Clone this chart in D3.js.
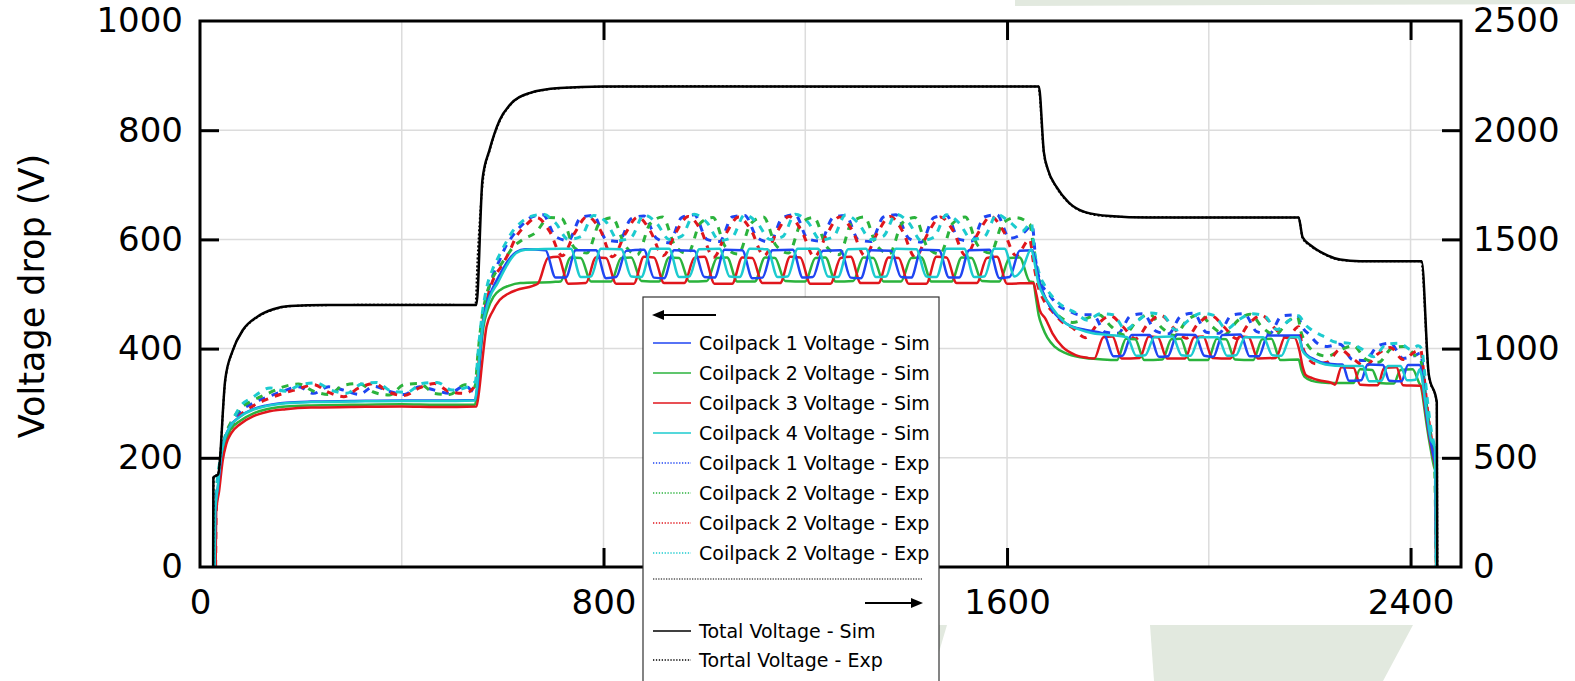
<!DOCTYPE html>
<html>
<head>
<meta charset="utf-8">
<script src="https://cdn.jsdelivr.net/npm/d3@7"></script>
<style>
body { margin: 0; background: #fff; }
svg { display: block; font-family: "DejaVu Sans", sans-serif; }
</style>
</head>
<body>
<svg width="1575" height="681"></svg>
<script>
// ---- data (time, voltage) ----
var blueSim = [[29,0],[30,105],[36,150],[43,212],[50,238],[60,258],[80,276],[105,289],[132,296],[170,301],[220,303],[300,304],[400,305],[470,305],[545,306],[550,330],[555,385],[561,445],[568,480],[580,510],[594,535],[610,560],[627,577],[645,582],
  [685,580],[705,530],[725,530],[745,580],[785,580],[805,529],[825,531],[845,579],[880,581],[900,530],[920,529],[940,580],[980,579],[1000,531],[1020,530],[1040,581],
  [1075,580],[1095,529],[1115,530],[1135,580],[1175,581],[1195,530],[1215,531],[1235,579],[1270,580],[1290,530],[1310,529],[1330,580],[1370,579],[1390,531],[1410,530],[1430,581],
  [1465,580],[1485,530],[1505,530],[1525,580],[1565,581],[1585,529],[1605,531],[1625,579],
  [1650,580],[1656,560],[1665,520],[1675,495],[1690,470],[1717,446],[1756,434],[1790,428],
  [1793,426],[1811,386],[1829,387],[1847,425],[1883,425],[1901,385],[1919,386],[1937,426],[1973,425],[1991,387],[2009,385],[2027,425],[2063,426],[2081,386],[2099,386],[2117,424],
  [2178,424],[2186,398],[2195,388],[2210,380],[2231,373],[2255,371],
  [2265,371],[2278,341],[2302,342],[2315,371],[2345,370],[2358,341],[2382,340],[2395,370],
  [2418,370],[2424,345],[2430,290],[2436,250],[2445,205],[2449,185],[2451,0]];

var greenSim = [[30,0],[31,108],[37,150],[44,205],[51,232],[61,252],[80,268],[105,281],[132,289],[170,294],[220,296],[300,297],[400,298],[470,297],[545,297],[550,325],[556,390],[562,440],[570,470],[582,495],[596,508],[612,515],[635,520],[700,522],
  [715,523],[735,567],[755,566],[775,523],[815,523],[835,566],[855,567],[875,524],[910,523],[930,567],[950,566],[970,523],[1005,524],[1025,566],[1045,567],[1065,523],
  [1100,523],[1120,567],[1140,566],[1160,524],[1200,523],[1220,566],[1240,567],[1260,523],[1295,524],[1315,567],[1335,566],[1355,523],[1390,523],[1410,566],[1430,567],[1450,523],
  [1490,523],[1510,567],[1530,566],[1550,524],[1585,523],[1605,566],[1625,567],[1645,523],
  [1652,522],[1657,495],[1663,460],[1670,440],[1680,420],[1695,403],[1715,392],[1745,384],[1790,380],
  [1818,379],[1836,418],[1854,417],[1872,379],[1908,380],[1926,417],[1944,418],[1962,379],[1998,379],[2016,418],[2034,417],[2052,380],[2088,379],[2106,417],[2124,418],[2142,379],
  [2178,380],[2184,360],[2190,348],[2205,341],[2225,338],[2250,337],
  [2287,337],[2300,362],[2324,361],[2337,337],[2367,336],[2380,361],[2404,362],[2417,337],
  [2421,330],[2426,300],[2432,260],[2440,215],[2447,182],[2450,175],[2451,0]];

var redSim = [[31,0],[32,100],[38,140],[45,195],[52,225],[62,245],[80,262],[105,276],[132,284],[170,289],[220,292],[300,293],[400,294],[470,293],[548,294],[553,320],[560,380],[568,440],[580,468],[594,489],[610,500],[627,507],[660,515],
  [670,519],[690,566],[710,568],[730,519],[765,520],[785,567],[805,566],[825,519],[860,519],[880,568],[900,567],[920,520],[960,520],[980,566],[1000,568],[1020,519],
  [1055,519],[1075,567],[1095,566],[1115,520],[1150,520],[1170,568],[1190,567],[1210,519],[1250,519],[1270,566],[1290,568],[1310,520],[1345,520],[1365,567],[1385,566],[1405,519],
  [1440,519],[1460,568],[1480,567],[1500,520],[1540,520],[1560,566],[1580,568],[1600,519],
  [1652,520],[1658,500],[1665,470],[1676,455],[1690,428],[1710,403],[1736,388],[1760,383],
  [1773,382],[1791,421],[1809,422],[1827,382],[1863,383],[1881,422],[1899,421],[1917,382],[1953,382],[1971,421],[1989,422],[2007,383],[2043,382],[2061,422],[2079,421],[2097,382],
  [2133,383],[2151,421],[2170,420],[2180,395],[2186,367],[2192,352],[2205,346],[2218,342],[2244,337],
  [2250,334],[2263,366],[2287,365],[2300,334],[2335,333],[2348,365],[2372,366],[2385,333],
  [2420,332],[2424,320],[2430,282],[2436,245],[2445,201],[2449,180],[2451,0]];

var cyanSim = [[29,0],[30,100],[35,145],[42,205],[49,235],[59,256],[79,275],[105,288],[132,295],[170,300],[220,302],[300,303],[400,304],[470,304],[545,305],[549,330],[554,385],[560,440],[567,470],[575,495],[590,520],[607,550],[617,565],[627,575],[645,581],[720,583],
  [735,583],[755,531],[775,532],[795,583],[835,582],[855,532],[875,531],[895,583],[930,583],[950,531],[970,532],[990,582],[1030,583],[1050,532],[1070,531],[1090,583],
  [1125,582],[1145,531],[1165,532],[1185,583],[1225,583],[1245,532],[1265,531],[1285,582],[1320,583],[1340,531],[1360,532],[1380,583],[1420,582],[1440,532],[1460,531],[1480,583],
  [1515,583],[1535,531],[1555,532],[1575,583],[1595,583],[1615,532],[1630,545],
  [1648,582],[1654,560],[1662,520],[1672,498],[1683,483],[1700,462],[1717,446],[1740,436],[1770,428],[1815,424],[1830,422],
  [1838,421],[1856,387],[1874,388],[1892,421],[1928,422],[1946,388],[1964,387],[1982,421],[2018,421],[2036,387],[2054,388],[2072,421],[2108,421],[2126,388],[2144,387],[2162,421],
  [2178,421],[2186,396],[2195,386],[2210,378],[2231,371],[2270,368],
  [2305,368],[2318,340],[2342,341],[2355,368],[2380,368],[2393,342],[2410,343],[2418,362],
  [2422,350],[2428,310],[2434,270],[2440,235],[2448,220],[2450,110],[2451,0]];

var blueExp = [[30,0],[31,105],[40,190],[50,235],[62,262],[80,285],[105,300],[135,312],[165,322],[195,330],[225,318],[255,330],[285,324],[315,316],[345,331],[375,322],[405,316],[435,330],[465,324],[495,318],[525,332],[545,320],[552,380],[560,450],[570,500],[583,540],[594,562],[605,585],[615,600],[627,615],[640,628],[655,640],
  [680,645],[705,605],[730,598],[755,640],[780,644],[805,600],[830,596],[855,638],[880,643],[905,602],[930,594],[955,640],[980,645],[1005,600],[1030,596],[1055,641],[1080,644],[1105,603],[1130,595],[1155,640],
  [1180,645],[1205,601],[1230,597],[1255,640],[1280,644],[1305,600],[1330,596],[1355,641],[1380,645],[1405,602],[1430,595],[1455,640],[1480,644],[1505,600],[1530,597],[1555,641],[1580,645],[1605,602],[1630,610],[1650,625],
  [1657,560],[1665,525],[1683,500],[1700,480],[1720,470],[1745,462],
  [1770,462],[1795,430],[1820,428],[1845,460],[1870,464],[1895,432],[1920,427],[1945,460],[1970,465],[1995,430],[2020,428],[2045,461],[2070,464],[2095,431],[2120,427],[2145,460],[2175,462],
  [2185,440],[2200,425],[2215,410],[2235,404],
  [2260,408],[2285,380],[2310,378],[2335,405],[2360,410],[2385,382],[2410,388],[2420,392],[2425,360],[2430,310],[2436,265],[2444,225],[2449,195],[2451,0]];

var greenExp = [[30,0],[31,110],[40,195],[50,240],[62,266],[80,290],[105,305],[135,318],[165,330],[195,335],[225,322],[255,316],[285,333],[315,336],[345,320],[375,315],[405,334],[435,336],[465,318],[495,316],[525,334],[545,330],[551,390],[558,450],[567,495],[578,525],[590,545],[605,565],[620,585],[640,600],[665,612],
  [692,640],[717,638],[742,585],[767,575],[792,630],[817,640],[842,590],[867,572],[892,628],[917,641],[942,588],[967,574],[992,630],[1017,640],[1042,586],[1067,573],[1092,629],[1117,641],[1142,589],[1167,575],
  [1192,630],[1217,640],[1242,587],[1267,572],[1292,631],[1317,641],[1342,588],[1367,574],[1392,630],[1417,640],[1442,586],[1467,573],[1492,629],[1517,641],[1542,589],[1567,575],[1592,630],[1617,640],[1645,628],
  [1652,590],[1660,540],[1670,505],[1685,478],[1705,458],[1730,448],
  [1757,455],[1782,462],[1807,440],[1832,425],[1857,450],[1882,463],[1907,438],[1932,424],[1957,452],[1982,462],[2007,440],[2032,426],[2057,451],[2082,463],[2107,438],[2132,425],[2157,450],[2176,458],
  [2183,430],[2195,408],[2212,392],[2235,386],
  [2262,398],[2287,405],[2312,380],[2337,375],[2362,400],[2387,404],[2412,385],[2420,380],[2426,340],[2432,290],[2440,240],[2447,200],[2451,0]];

var redExp = [[31,0],[32,100],[41,180],[51,228],[63,255],[80,278],[105,295],[135,308],[165,318],[195,326],[225,334],[255,320],[285,312],[315,328],[345,336],[375,320],[405,314],[435,328],[465,336],[495,321],[525,318],[548,336],[555,395],[562,455],[572,500],[583,530],[597,550],[612,575],[627,605],[645,625],[668,640],
  [693,615],[718,570],[743,612],[768,642],[793,618],[818,568],[843,610],[868,641],[893,615],[918,570],[943,612],[968,642],[993,617],[1018,567],[1043,611],[1068,641],[1093,616],[1118,570],[1143,612],[1168,642],
  [1193,615],[1218,568],[1243,610],[1268,641],[1293,617],[1318,570],[1343,612],[1368,642],[1393,615],[1418,567],[1443,611],[1468,641],[1493,616],[1518,570],[1543,612],[1568,642],[1593,615],[1618,570],[1645,600],
  [1652,560],[1660,520],[1672,490],[1688,470],[1708,450],[1730,438],
  [1755,420],[1780,445],[1805,460],[1830,440],[1855,418],[1880,446],[1905,461],[1930,438],[1955,419],[1980,447],[2005,460],[2030,440],[2055,418],[2080,446],[2105,461],[2130,438],[2155,420],[2178,440],
  [2184,410],[2195,385],[2212,372],[2235,375],
  [2260,398],[2285,382],[2310,368],[2335,390],[2360,402],[2385,380],[2410,395],[2420,398],[2425,365],[2431,310],[2438,255],[2446,210],[2450,185],[2451,0]];

var cyanExp = [[29,0],[30,102],[38,185],[48,232],[59,256],[79,293],[105,311],[139,328],[170,322],[200,334],[230,337],[260,324],[290,318],[320,335],[350,338],[380,322],[410,320],[440,336],[470,338],[500,324],[530,330],[546,340],[552,400],[559,460],[568,510],[580,545],[593,570],[607,595],[620,615],[635,630],[653,641],
  [680,646],[705,630],[730,600],[755,605],[780,644],[805,632],[830,598],[855,604],[880,645],[905,630],[930,600],[955,606],[980,646],[1005,631],[1030,598],[1055,604],[1080,645],[1105,630],[1130,600],[1155,605],
  [1180,646],[1205,632],[1230,599],[1255,604],[1280,645],[1305,630],[1330,600],[1355,606],[1380,646],[1405,631],[1430,598],[1455,604],[1480,645],[1505,630],[1530,600],[1555,605],[1580,646],[1605,632],[1630,615],[1648,630],
  [1655,575],[1663,540],[1675,515],[1690,495],[1710,478],[1735,466],
  [1760,452],[1785,464],[1810,462],[1835,435],[1860,452],[1885,465],[1910,460],[1935,434],[1960,452],[1985,465],[2010,461],[2035,436],[2060,453],[2085,464],[2110,460],[2135,435],[2160,452],[2178,460],
  [2190,445],[2204,434],[2231,421],[2250,412],
  [2277,410],[2302,400],[2327,385],[2352,408],[2377,410],[2402,398],[2415,405],[2422,400],[2428,355],[2434,300],[2441,250],[2448,210],[2451,0]];

// total voltage, right axis
var totalSim = [[26,0],[26.5,410],[36,425],[50,857],[65,992],[85,1085],[113,1145],[145,1180],[178,1195],[250,1200],[548,1200],[560,1775],[574,1910],[594,2046],[614,2115],[653,2170],[713,2193],[800,2200],
  [1663,2200],[1673,1900],[1681,1820],[1698,1740],[1722,1670],[1755,1625],[1804,1607],[1880,1600],[2178,1600],[2186,1510],[2203,1471],[2228,1435],[2260,1408],[2300,1400],[2422,1400],[2436,883],[2452,755],[2453,0]];
var totalExp = [[26,0],[27,410],[36,428],[50,850],[65,990],[85,1082],[113,1143],[145,1178],[178,1194],[250,1199],[400,1201],[546,1200],[550,1400],[561,1770],[574,1905],[594,2040],[614,2112],[653,2168],[713,2192],[800,2199],[1000,2201],[1300,2199],
  [1662,2200],[1673,1895],[1681,1818],[1698,1738],[1722,1668],[1755,1623],[1804,1605],[1900,1601],[2178,1600],[2186,1505],[2203,1468],[2228,1433],[2260,1406],[2300,1400],[2421,1400],[2436,880],[2452,752],[2453,0]];

var xTicks = [0, 800, 1600, 2400];
var xGrid = [400, 800, 1200, 1600, 2000, 2400];
var yTicksL = [0, 200, 400, 600, 800, 1000];
var yTicksR = [0, 500, 1000, 1500, 2000, 2500];
var yGrid = [200, 400, 600, 800];

var coilLabels = ["Coilpack 1 Voltage - Sim", "Coilpack 2 Voltage - Sim", "Coilpack 3 Voltage - Sim", "Coilpack 4 Voltage - Sim",
  "Coilpack 1 Voltage - Exp", "Coilpack 2 Voltage - Exp", "Coilpack 2 Voltage - Exp", "Coilpack 2 Voltage - Exp"];
var totalLabels = ["Total Voltage - Sim", "Tortal Voltage - Exp"];

var colors = { blue: "#1f45f2", green: "#2bb33c", red: "#e0161c", cyan: "#1ccbcf" };

// ---- drawing ----
var svg = d3.select("svg");

var x = d3.scaleLinear().domain([0, 2500]).range([200, 1461]);
var yL = d3.scaleLinear().domain([0, 1000]).range([567, 21]);
var yR = d3.scaleLinear().domain([0, 2500]).range([567, 21]);

// faint slide background shapes
var bg = svg.append("g").attr("fill", "#e2e9df");
bg.append("path").attr("d", "M1015,0L1575,0L1575,4L1015,6Z");
bg.append("path").attr("d", "M1150,625L1413,625L1383,681L1154,681Z");
bg.append("path").attr("d", "M939,625L947,625L939,652Z");

svg.append("defs").append("clipPath").attr("id", "plot")
    .append("rect").attr("x", 200).attr("y", 21).attr("width", 1261).attr("height", 546);

svg.append("g").selectAll("line").data(xGrid).enter().append("line")
    .attr("x1", function (d) { return x(d); }).attr("x2", function (d) { return x(d); })
    .attr("y1", yL(1000)).attr("y2", yL(0))
    .attr("stroke", "#dcdcdc").attr("stroke-width", 1.5);
svg.append("g").selectAll("line").data(yGrid).enter().append("line")
    .attr("x1", x(0)).attr("x2", x(2500))
    .attr("y1", function (d) { return yL(d); }).attr("y2", function (d) { return yL(d); })
    .attr("stroke", "#dcdcdc").attr("stroke-width", 1.5);

// ticks sitting on the frame corners are dropped, the frame draws them
function styleAxis(edges) {
    return function (g) {
        g.select(".domain").remove();
        g.selectAll(".tick line").attr("stroke", "#000").attr("stroke-width", 3)
            .filter(function (d) { return edges.indexOf(d) >= 0; }).remove();
        g.selectAll(".tick text").attr("font-size", 34).attr("fill", "#000")
            .attr("font-family", "DejaVu Sans, sans-serif");
    };
}

var fmt = d3.format("d");
svg.append("g").attr("transform", "translate(200,0)")
    .call(d3.axisLeft(yL).tickValues(yTicksL).tickFormat(fmt).tickSize(-19).tickSizeOuter(0).tickPadding(17))
    .call(styleAxis([0, 1000]));
svg.append("g").attr("transform", "translate(1461,0)")
    .call(d3.axisRight(yR).tickValues(yTicksR).tickFormat(fmt).tickSize(-19).tickSizeOuter(0).tickPadding(12))
    .call(styleAxis([0, 2500]));
svg.append("g").attr("transform", "translate(0,567)")
    .call(d3.axisBottom(x).tickValues(xTicks).tickFormat(fmt).tickSize(-19).tickSizeOuter(0).tickPadding(23))
    .call(styleAxis([0]));
svg.append("g").attr("transform", "translate(0,21)")
    .call(d3.axisTop(x).tickValues(xTicks).tickSize(-19).tickSizeOuter(0).tickFormat(""))
    .call(styleAxis([0]));

svg.append("text")
    .attr("transform", "translate(44,296) rotate(-90)")
    .attr("text-anchor", "middle")
    .attr("font-family", "DejaVu Sans, sans-serif")
    .attr("font-size", 35)
    .text("Voltage drop (V)");

var lineL = d3.line()
    .x(function (d) { return x(d[0]); })
    .y(function (d) { return yL(d[1]); })
    .curve(d3.curveMonotoneX);
var lineR = d3.line()
    .x(function (d) { return x(d[0]); })
    .y(function (d) { return yR(d[1]); })
    .curve(d3.curveMonotoneX);

var expSeries = [[blueExp, colors.blue], [greenExp, colors.green], [redExp, colors.red], [cyanExp, colors.cyan]];
var simSeries = [[greenSim, colors.green], [redSim, colors.red], [blueSim, colors.blue], [cyanSim, colors.cyan]];

var plot = svg.append("g").attr("clip-path", "url(#plot)");

plot.append("g").selectAll("path").data(expSeries).enter().append("path")
    .attr("d", function (d) { return lineL(d[0]); })
    .attr("fill", "none")
    .attr("stroke", function (d) { return d[1]; })
    .attr("stroke-width", 3)
    .attr("stroke-dasharray", "7,7");

plot.append("g").selectAll("path").data(simSeries).enter().append("path")
    .attr("d", function (d) { return lineL(d[0]); })
    .attr("fill", "none")
    .attr("stroke", function (d) { return d[1]; })
    .attr("stroke-width", 2.5);

plot.append("path").attr("d", lineR(totalExp))
    .attr("fill", "none").attr("stroke", "#000").attr("stroke-width", 2)
    .attr("stroke-dasharray", "2,2");
plot.append("path").attr("d", lineR(totalSim))
    .attr("fill", "none").attr("stroke", "#000").attr("stroke-width", 2.5);

// frame
svg.append("rect")
    .attr("x", x(0)).attr("y", yL(1000))
    .attr("width", x(2500) - x(0)).attr("height", yL(0) - yL(1000))
    .attr("fill", "none").attr("stroke", "#000").attr("stroke-width", 3);

// ---- legend ----
var lg = svg.append("g").attr("font-size", 19).attr("font-family", "DejaVu Sans, sans-serif");
lg.append("rect").attr("x", 643).attr("y", 297).attr("width", 296).attr("height", 420)
    .attr("fill", "#fff").attr("stroke", "#333").attr("stroke-width", 1.2);

lg.append("line").attr("x1", 662).attr("x2", 716).attr("y1", 315).attr("y2", 315)
    .attr("stroke", "#000").attr("stroke-width", 2.2);
lg.append("path").attr("d", "M652,315L664,310L664,320Z").attr("fill", "#000");

var legendColors = [colors.blue, colors.green, colors.red, colors.cyan, colors.blue, colors.green, colors.red, colors.cyan];
var rows = lg.selectAll("g.row").data(coilLabels).enter().append("g")
    .attr("class", "row")
    .attr("transform", function (d, i) { return "translate(0," + (343 + 30 * i) + ")"; });
rows.append("line").attr("x1", 653).attr("x2", 691)
    .attr("stroke", function (d, i) { return legendColors[i]; })
    .attr("stroke-width", function (d, i) { return i < 4 ? 1.5 : 1.3; })
    .attr("stroke-dasharray", function (d, i) { return i < 4 ? null : "1.3,1.6"; });
rows.append("text").attr("x", 699).attr("dy", "0.35em").text(function (d) { return d; });

lg.append("line").attr("x1", 653).attr("x2", 922).attr("y1", 579).attr("y2", 579)
    .attr("stroke", "#000").attr("stroke-width", 1).attr("stroke-dasharray", "1.3,1.3");

lg.append("line").attr("x1", 865).attr("x2", 912).attr("y1", 603).attr("y2", 603)
    .attr("stroke", "#000").attr("stroke-width", 2.2);
lg.append("path").attr("d", "M923,603L911,598L911,608Z").attr("fill", "#000");

var trows = lg.selectAll("g.trow").data(totalLabels).enter().append("g")
    .attr("class", "trow")
    .attr("transform", function (d, i) { return "translate(0," + (631 + 29 * i) + ")"; });
trows.append("line").attr("x1", 653).attr("x2", 691)
    .attr("stroke", "#000")
    .attr("stroke-width", function (d, i) { return i === 0 ? 1.5 : 1.3; })
    .attr("stroke-dasharray", function (d, i) { return i === 0 ? null : "1.3,1.6"; });
trows.append("text").attr("x", 699).attr("dy", "0.35em").text(function (d) { return d; });
</script>
</body>
</html>
